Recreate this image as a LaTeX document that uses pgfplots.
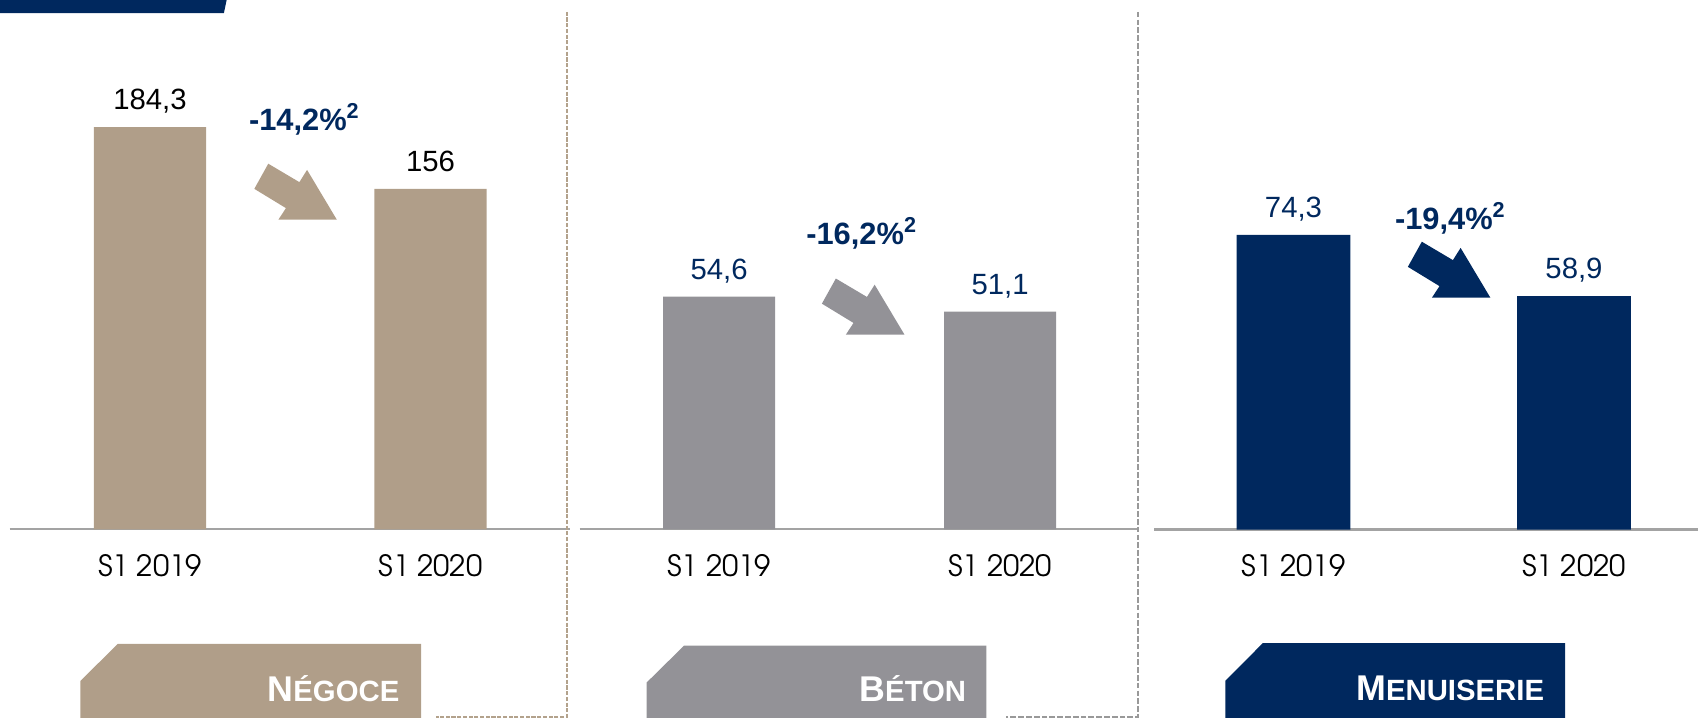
\documentclass[border=0pt]{standalone}
\usepackage{pgfplots}
\pgfplotsset{compat=1.18}
\usepackage{fontspec}
\setmainfont{Liberation Sans}
\newfontfamily\gothic{TeX Gyre Adventor}
\definecolor{ntan}{HTML}{B09E89}
\definecolor{ngray}{HTML}{939297}
\definecolor{navy}{HTML}{00285E}
\definecolor{basegray}{HTML}{A3A3A3}
\definecolor{dashtan}{HTML}{B3A28C}
\definecolor{dashgray}{HTML}{999999}

\pgfplotsset{
  panel/.style={
    ybar, ymin=0, enlargelimits=false,
    axis x line=bottom, axis y line=none,
    x axis line style={-, draw=basegray, line width=1.1pt},
    xtick={0,1}, xticklabels={S1 2019,S1 2020},
    major tick length=0pt,
    xticklabel style={font=\gothic\fontsize{15.4}{17}\selectfont, text=black, anchor=base, yshift=-0.864cm, inner sep=0pt},
    ytick=\empty,
    clip=false,
    anchor=south west,
    nodes near coords,
    every node near coord/.append style={font=\fontsize{15.4}{17}\selectfont, anchor=base, yshift=0.32cm, inner sep=0pt},
    /pgf/number format/use comma,
    /pgf/number format/fixed,
    /pgf/number format/precision=1,
    /pgf/number format/assume math mode=true,
  }
}

\begin{document}
\begin{tikzpicture}
\path[use as bounding box] (0,0) rectangle (31.36cm,13.26cm);

\begin{axis}[panel, at={(0.176cm,3.484cm)}, x=5.18cm, y=0.040314cm,
  xmin=-0.5008, xmax=1.498, ymax=200, bar width=2.07cm,
  every node near coord/.append style={text=black}]
\addplot[fill=ntan, draw=none] coordinates {(0,184.3) (1,156)};
\end{axis}

\begin{axis}[panel, at={(10.706cm,3.484cm)}, x=5.19cm, y=0.07868cm,
  xmin=-0.496, xmax=1.4875, ymax=70, bar width=2.07cm,
  every node near coord/.append style={text=navy}]
\addplot[fill=ngray, draw=none] coordinates {(0,54.6) (1,51.1)};
\end{axis}

\begin{axis}[panel, at={(21.32cm,3.48cm)}, x=5.18cm, y=0.07322cm,
  xmin=-0.496, xmax=1.442, ymax=90, bar width=2.1cm,
  every node near coord/.append style={text=navy}]
\addplot[fill=navy, draw=none] coordinates {(0,74.3) (1,58.9)};
\end{axis}

\begin{scope}[x=0.02cm,y=0.02cm]
% top band
\fill[navy] (0,664) -- (209.5,664) -- (206.7,650.7) -- (0,650.7) -- cycle;
% dashed separators
\draw[dashtan, line width=1pt, dash pattern=on 2.2pt off 0.8pt] (523.7,652) -- (523.7,1.3) -- (402.8,1.3);
\draw[dashgray, line width=1pt, dash pattern=on 3pt off 1.1pt] (1051,652) -- (1051,1.3) -- (928.4,1.3);
% arrows
\begin{scope}[shift={(311,460)}]
\fill[ntan] (-63.3,51.7) -- (-34.6,34.7) -- (-27.5,46) -- (0,0) -- (-54,0) -- (-47,10.7) -- (-76.2,28.5) -- cycle;
\end{scope}
\begin{scope}[shift={(835,354)}]
\fill[ngray] (-63.3,51.7) -- (-34.6,34.7) -- (-27.5,46) -- (0,0) -- (-54,0) -- (-47,10.7) -- (-76.2,28.5) -- cycle;
\end{scope}
\begin{scope}[shift={(1376,388)}]
\fill[navy] (-63.3,51.7) -- (-34.6,34.7) -- (-27.5,46) -- (0,0) -- (-54,0) -- (-47,10.7) -- (-76.2,28.5) -- cycle;
\end{scope}
% percent labels
\node[text=navy, font=\bfseries\fontsize{16.2}{18}\selectfont, anchor=base, inner sep=0pt] at (281,542.3) {-14,2\%\textsuperscript{2}};
\node[text=navy, font=\bfseries\fontsize{16.2}{18}\selectfont, anchor=base, inner sep=0pt] at (795.5,437) {-16,2\%\textsuperscript{2}};
\node[text=navy, font=\bfseries\fontsize{16.2}{18}\selectfont, anchor=base, inner sep=0pt] at (1339,450.6) {-19,4\%\textsuperscript{2}};
% segment boxes
\fill[ntan] (74.2,-1) -- (74.2,34.2) -- (108.8,68.4) -- (388.7,68.4) -- (388.7,-1) -- cycle;
\node[text=white, anchor=base east, inner sep=0pt, font=\bfseries] at (369,15) {{\fontsize{18.8}{20}\selectfont N}{\fontsize{15.4}{17}\selectfont ÉGOCE}};
\fill[ngray] (596.9,-1) -- (596.9,32.6) -- (631.6,66.8) -- (910.7,66.8) -- (910.7,-1) -- cycle;
\node[text=white, anchor=base east, inner sep=0pt, font=\bfseries] at (892.3,15.1) {{\fontsize{18.8}{20}\selectfont B}{\fontsize{15.4}{17}\selectfont ÉTON}};
\fill[navy] (1131.2,-1) -- (1131.2,34.2) -- (1165.8,69) -- (1445,69) -- (1445,-1) -- cycle;
\node[text=white, anchor=base east, inner sep=0pt, font=\bfseries] at (1425.9,16) {{\fontsize{18.8}{20}\selectfont M}{\fontsize{15.4}{17}\selectfont ENUISERIE}};
\end{scope}
\end{tikzpicture}
\end{document}
